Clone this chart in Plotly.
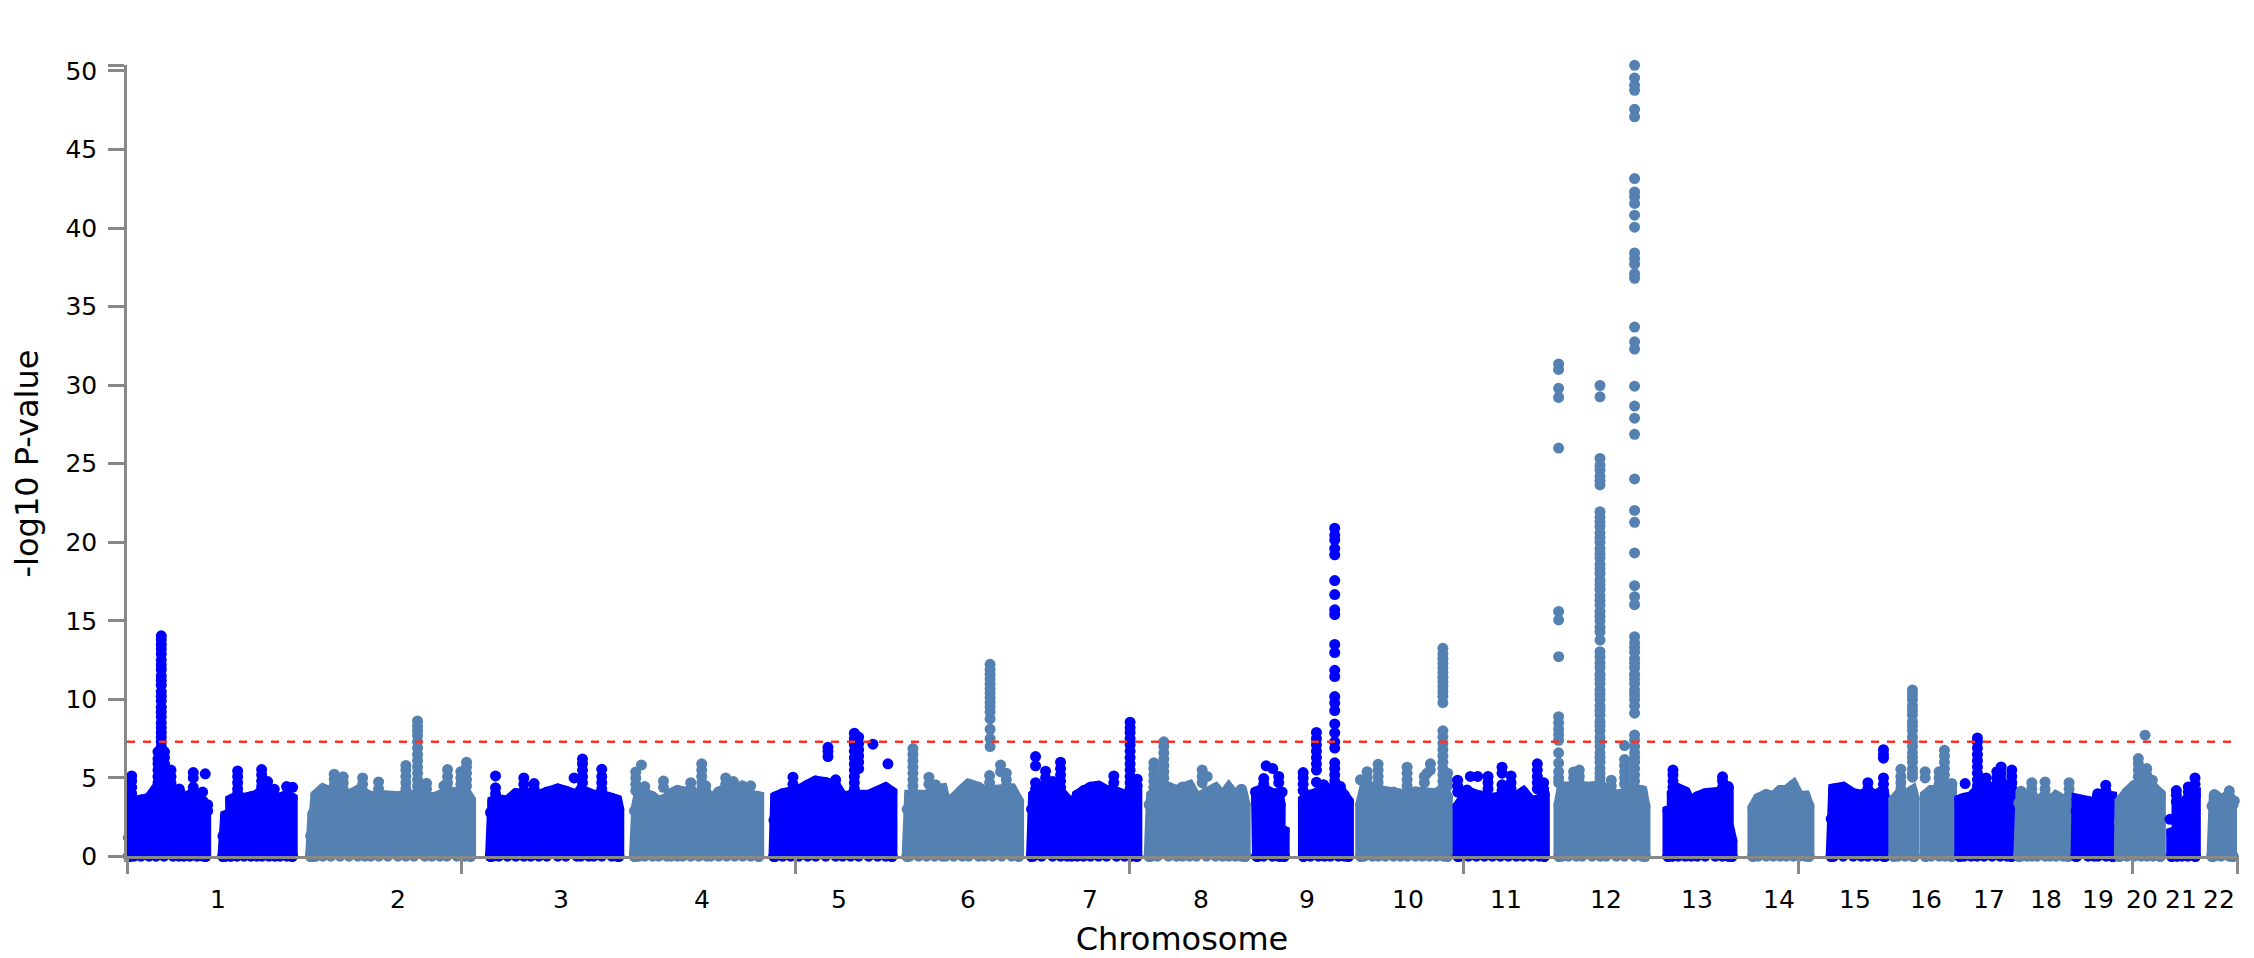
import plotly.graph_objects as go

# positions are measured along the genome axis, heights are -log10 P
axis_length = 2111
tick_positions = [0, 334.4, 668.8, 1003.2, 1337.6, 1672, 2006.4, 2111]
y_ticks = [0, 5, 10, 15, 20, 25, 30, 35, 40, 45, 50, 50.38]
y_tick_text = ["0", "5", "10", "15", "20", "25", "30", "35", "40", "45", "50", ""]
threshold = 7.3

chrom_names = [str(i) for i in range(1, 23)]
chrom_centers = [91, 271, 434, 575, 712, 841.5, 963, 1075, 1181, 1282, 1380, 1479.6,
                 1570.5, 1652.5, 1729, 1800, 1863, 1920, 1972, 2015.5, 2055, 2093]

# top of the dense part of each chromosome, None between separate lobes
chr1_x = [1.7, 1.7, 2.5, 4, 7, 14, 22, 29, 37, 46, 52, 57, 63, 70, 76, 78.7, 78.7, None, 96, 96, 98.7, 98.7, 103.7, 103.7, 110, 117, 124, 130, 135, 142, 148, 153, 160, 165.3, 165.3]
chr1_top = [0, 1.2, 2.2, 3.6, 3.5, 3.6, 3.7, 4.3, 4.3, 4.2, 4.2, 3.6, 3.9, 3.7, 3.5, 3.2, 0, None, 0, 1.3, 1.4, 2.6, 2.7, 3.6, 3.8, 3.7, 3.8, 3.9, 4.2, 3.9, 3.8, 3.7, 3.9, 3.7, 0]
chr2_x = [183.7, 183.7, 186, 186, 187.7, 189, 196, 204, 213, 222, 231, 238, 244, 252, 261, 271, 279, 287, 298, 305, 313, 320, 330, 338, 343.7, 343.7]
chr2_top = [0, 1.3, 1.4, 2.7, 2.9, 3.9, 4.3, 4.1, 4.1, 3.9, 4.2, 3.9, 3.8, 3.9, 3.8, 3.8, 3.9, 3.9, 3.9, 3.7, 3.9, 4.0, 4.1, 4.2, 3.6, 0]
chr3_x = [363.7, 363.7, 366, 372, 380.7, 389, 397, 404, 412, 420, 431, 439, 450, 454, 462, 467, 475, 485, 490, 492, 492]
chr3_top = [0, 2.8, 3.5, 3.6, 3.54, 4.0, 3.9, 3.9, 3.9, 4.1, 4.3, 4.16, 3.9, 4.24, 4.0, 3.9, 3.9, 3.7, 3.6, 3.0, 0]
chr4_x = [507.7, 507.7, 510, 512, 518, 525.7, 532, 540, 544, 550.7, 556, 564, 572, 580, 584, 592, 600, 608, 616, 624, 632, 632]
chr4_top = [0, 2.9, 3.2, 3.9, 4.0, 3.8, 3.5, 3.7, 4.0, 4.2, 4.1, 3.9, 3.9, 4.0, 3.5, 4.1, 4.3, 4.3, 3.9, 3.9, 3.8, 0]
chr5_x = [647.3, 647.3, 648.3, 649, 656, 664, 672, 681, 689, 699, 709, 716, 724, 732, 742, 751, 759, 765.3, 765.3]
chr5_top = [0, 2.3, 2.4, 3.8, 4.0, 4.1, 4.2, 4.54, 4.8, 4.7, 4.5, 3.8, 3.9, 3.9, 3.9, 4.1, 4.37, 4.1, 0]
chr6_x = [780.5, 780.5, 783, 792, 800, 808, 815.7, 819, 827, 835.7, 842, 852, 858, 866, 875, 885, 892, 892]
chr6_top = [0, 3.0, 3.9, 3.9, 3.9, 4.2, 4.3, 3.4, 3.7, 4.24, 4.6, 4.4, 4.1, 4.2, 4.2, 4.3, 3.5, 0]
chr7_x = [905, 905, 907, 915, 926, 934, 940.7, 945, 950.7, 957, 964, 972, 980, 990, 998, 1005, 1010.3, 1010.3]
chr7_top = [0, 3.0, 3.9, 4.2, 4.2, 4.1, 3.6, 2.6, 3.9, 4.2, 4.4, 4.47, 4.2, 4.1, 3.9, 4.0, 4.2, 0]
chr8_x = [1022.7, 1022.7, 1025, 1031, 1042, 1050, 1056, 1063, 1070, 1080, 1089, 1096, 1102.3, 1109, 1115, 1118.7, 1118.7]
chr8_top = [0, 3.3, 3.9, 4.3, 4.4, 4.2, 4.43, 4.5, 3.7, 4.1, 4.35, 3.8, 4.35, 3.8, 4.28, 3.3, 0]
chr9_x = [1131, 1131, 1130, 1137, 1146, 1152, 1153.7, 1153.7, 1157.7, 1157.7, None, 1177, 1177, 1184, 1192, 1198, 1204, 1212, 1218, 1222, 1222]
chr9_top = [0, 3.3, 4.1, 4.3, 4.0, 4.0, 3.3, 1.7, 1.6, 0, None, 0, 3.6, 3.9, 4.1, 4.3, 4.3, 4.4, 3.9, 3.5, 0]
chr10_x = [1234.3, 1234.3, 1238, 1246, 1252, 1259, 1267, 1274, 1281, 1289, 1296, 1303, 1310, 1317, 1321, 1321]
chr10_top = [0, 3.3, 4.3, 4.4, 4.2, 4.1, 4.1, 3.9, 3.9, 4.1, 4.1, 4.0, 4.0, 4.3, 3.8, 0]
chr11_x = [1331.7, 1331.7, 1336, 1342, 1350, 1358, 1366, 1374, 1382, 1390, 1397, 1405, 1413, 1418, 1418]
chr11_top = [0, 3.2, 3.6, 4.1, 3.9, 3.8, 3.7, 3.8, 3.7, 3.8, 4.1, 3.5, 3.6, 4.0, 0]
chr12_x = [1432.7, 1432.7, 1436, 1442, 1450, 1456, 1465.7, 1474, 1480, 1490, 1498, 1508, 1515.7, 1518.7, 1518.7]
chr12_top = [0, 3.3, 4.43, 4.4, 4.4, 4.4, 4.43, 4.5, 4.3, 3.9, 4.0, 4.3, 4.18, 3.2, 0]
chr13_x = [1541.7, 1541.7, 1546, 1546, 1552, 1559, 1565, 1571, 1579, 1589, 1596, 1602, 1602, 1605.7, 1605.7]
chr13_top = [0, 2.9, 3.0, 4.0, 4.3, 4.1, 3.4, 3.8, 4.0, 4.0, 4.1, 4.45, 2.0, 1.0, 0]
chr14_x = [1626.7, 1626.7, 1632, 1640, 1647, 1654, 1660, 1667, 1673, 1679, 1682.7, 1682.7]
chr14_top = [0, 3.1, 3.7, 3.94, 3.8, 4.2, 4.2, 4.54, 3.8, 3.84, 3.2, 0]
chr15_x = [1705, 1705, 1707.5, 1707.5, 1717, 1727, 1735, 1741.7, 1750, 1757, 1758.7, 1758.7]
chr15_top = [0, 2.4, 2.6, 4.3, 4.4, 4.0, 3.9, 4.1, 3.9, 4.2, 3.6, 0]
chr16_x = [1767.7, 1767.7, 1772, 1779, 1786, 1788, 1788, None, 1799.3, 1799.3, 1805, 1813, 1819, 1825.3, 1825.3]
chr16_top = [0, 3.6, 3.9, 3.9, 4.18, 3.7, 0, None, 0, 3.9, 4.2, 4.2, 4.4, 4.3, 0]
chr17_x = [1833.7, 1833.7, 1838, 1845, 1851, 1858, 1866, 1874, 1881, 1885.3, 1885.3]
chr17_top = [0, 3.6, 3.7, 3.8, 4.2, 4.4, 4.4, 4.5, 4.5, 4.3, 0]
chr18_x = [1892.7, 1892.7, 1895, 1901, 1906, 1911, 1919, 1924, 1930, 1937, 1942, 1942]
chr18_top = [0, 3.4, 4.15, 3.6, 3.9, 3.4, 3.9, 3.4, 3.85, 3.6, 3.4, 0]
chr19_x = [1950, 1950, 1951, 1962, 1968, 1972, 1980, 1985.7, 1987, 1987]
chr19_top = [0, 2.9, 3.65, 3.5, 3.3, 3.9, 3.9, 3.8, 2.2, 0]
chr20_x = [1993.3, 1993.3, 1994, 2001, 2008, 2015, 2021, 2027, 2034.3, 2034.3]
chr20_top = [0, 2.2, 3.5, 4.07, 4.5, 4.6, 4.7, 4.4, 3.97, 0]
chr21_x = [2045.7, 2045.7, 2051, 2051, 2056, 2062, 2069.3, 2069.3]
chr21_top = [0, 1.5, 1.6, 3.5, 3.3, 3.7, 3.9, 0]
chr22_x = [2086, 2086, 2088.3, 2095, 2103, 2107, 2107]
chr22_top = [0, 3.2, 3.94, 3.6, 3.9, 3.3, 0]

# points standing clear of the dense part, one list of heights per column
chr1_hit_x = [34.3, 31, 37.5, 4.7, 44, 52.3, 66.3, 75.7, 78.3, 80.7, 110.7, 134.7, 140.7, 147.3, 159.7, 165.7]
chr1_hit_y = [[14.05, 13.8, 13.5, 13.2, 12.9, 12.5, 12.2, 11.9, 11.5, 11.2, 10.9, 10.5, 10.2, 9.9, 9.5, 9.2, 8.9, 8.5, 8.2, 7.9, 7.6, 7.3, 7.0, 6.7, 6.4, 6.1, 5.8, 5.5, 5.2, 4.9, 4.6, 4.3, 4.0],
              [6.66, 6.2, 5.9, 5.5, 5.1, 4.7, 4.3], [6.66, 6.3, 5.9, 5.5, 5.1, 4.7, 4.3],
              [5.13, 4.8, 4.4, 4.0], [5.5, 5.1, 4.7, 4.3], [4.3], [5.34, 5.0, 4.4, 4.0], [4.1], [5.26], [3.3, 2.9],
              [5.45, 5.1, 4.7, 4.3, 4.0], [5.53, 5.2, 4.8, 4.45], [4.77, 4.4], [4.28], [4.45], [4.4]]
chr2_hit_x = [207.3, 216.3, 235.7, 251.7, 279, 290.7, 299.7, 317, 320.7, 334, 339.7]
chr2_hit_y = [[5.24, 4.9, 4.5], [5.07, 4.7, 4.3], [5.0, 4.6, 4.2], [4.75, 4.3], [5.8, 5.5, 5.1, 4.7, 4.3],
              [8.63, 8.3, 8.0, 7.7, 7.3, 6.9, 6.5, 6.1, 5.7, 5.3, 4.9, 4.5, 4.1], [4.66, 4.3], [4.5], [5.53, 5.1, 4.7, 4.3], [5.4, 5.0, 4.6, 4.2], [6.0, 5.7, 5.3, 4.9, 4.5]]
chr3_hit_x = [368.7, 397, 407.3, 447.3, 455.7, 475]
chr3_hit_y = [[5.13, 4.37, 4.0], [5.0, 4.6, 4.2], [4.64, 4.3], [5.0], [6.2, 5.9, 5.5, 5.1, 4.7], [5.55, 5.1, 4.7, 4.3]]
chr4_hit_x = [509, 514.7, 518, 536.7, 564, 575, 579, 599, 606.7, 615.7, 624]
chr4_hit_y = [[5.38, 5.0, 4.6, 4.2], [5.83], [4.45], [4.8, 4.4], [4.7, 4.3], [5.9, 5.5, 5.1, 4.7, 4.3], [4.5, 4.1], [5.0, 4.6], [4.77, 4.4], [4.5], [4.5]]
chr5_hit_x = [666.3, 701.3, 727.7, 732, 746.3, 761.3, 709]
chr5_hit_y = [[5.05, 4.6], [6.95, 6.7, 6.36], [7.85, 7.5, 7.1, 6.7, 6.3, 5.9, 5.5, 5.1, 4.7, 4.3], [7.6, 7.2, 6.8, 6.4, 6.0, 5.6], [7.15], [5.9], [4.88]]
chr6_hit_x = [786.3, 802.3, 809, 863.5, 863, 874, 879.7]
chr6_hit_y = [[6.87, 6.5, 6.1, 5.7, 5.3, 4.9, 4.5, 4.1], [5.05, 4.6], [4.56],
              [12.23, 11.9, 11.6, 11.3, 11.0, 10.7, 10.4, 10.1, 9.8, 9.5, 9.2, 8.76, 8.1, 7.5, 7.0], [5.15, 4.7], [5.83, 5.4], [5.3, 4.9, 4.5]]
chr7_hit_x = [909, 909, 919, 926.3, 934, 987.3, 1003.6, 1010.7]
chr7_hit_y = [[6.36, 5.77], [4.7, 4.3], [5.43, 5.0, 4.6], [4.77], [6.0, 5.6, 5.2, 4.8, 4.4], [5.13, 4.7], [8.55, 8.2, 7.9, 7.5, 7.1, 6.7, 6.3, 5.9, 5.5, 5.1, 4.7, 4.3], [4.92, 4.5]]
chr8_hit_x = [1027.3, 1033, 1037.3, 1075.7, 1080.7]
chr8_hit_y = [[5.96, 5.6, 5.2, 4.8, 4.4], [5.0, 4.6], [7.3, 7.0, 6.6, 6.2, 5.8, 5.4, 5.0, 4.6], [5.5, 5.1, 4.7], [5.1]]
chr9_hit_x = [1129, 1137.3, 1139.7, 1146.3, 1152.3, 1155.7, 1176.7, 1190, 1190, 1197.3, 1208.3, 1214]
chr9_hit_y = [[4.1], [4.96, 4.6], [5.77], [5.6], [5.1, 4.7], [4.1], [5.34, 5.0, 4.6, 4.2], [7.9, 7.5, 7.1, 6.7, 6.3, 5.9, 5.5], [4.73], [4.56],
              [20.9, 20.46, 20.15, 19.6, 19.2, 17.56, 16.67, 15.7, 15.4, 13.5, 12.98, 11.85, 11.45, 10.18, 9.77, 9.29, 8.44, 7.87, 7.3, 6.9, 5.96, 5.6, 5.2, 4.8, 4.4], [4.45]]
chr10_hit_x = [1234, 1240.7, 1251.7, 1280.7, 1298, 1300.7, 1304, 1316.5, 1321.3]
chr10_hit_y = [[4.88], [5.4, 5.0, 4.6], [5.87, 5.5, 5.1, 4.7, 4.3], [5.68, 5.3, 4.9, 4.5], [5.1, 4.7], [5.3], [5.9, 5.5],
               [13.25, 12.9, 12.6, 12.3, 12.0, 11.7, 11.4, 11.1, 10.8, 10.5, 10.2, 9.8, 8.0, 7.6, 7.2, 6.8, 6.4, 6.0, 5.6, 5.2, 4.8, 4.4], [5.3, 4.9, 4.5]]
chr11_hit_x = [1331.3, 1344, 1351.3, 1340.7, 1361.7, 1375.7, 1375.7, 1384.7, 1411, 1417.3]
chr11_hit_y = [[4.86, 4.5, 4.1], [5.1], [5.1], [4.24], [5.1, 4.7, 4.3], [5.68, 5.3], [4.56, 4.2], [5.13, 4.7, 4.3], [5.9, 5.5, 5.1, 4.7, 4.3], [4.7, 4.3]]
chr12_hit_x = [1432.3, 1447.3, 1453, 1473.7, 1485, 1498.3, 1508.3]
chr12_hit_y = [[31.35, 31.0, 29.8, 29.22, 26.0, 15.6, 15.06, 12.72, 8.9, 8.5, 8.1, 7.75, 7.4, 6.6, 5.95, 5.4, 5.0, 4.7],
               [5.38, 5.0, 4.6], [5.5, 5.1, 4.7],
               [29.98, 29.26, 25.34, 24.9, 24.6, 24.2, 23.9, 23.65, 21.95, 21.6, 21.3, 21.0, 20.6, 20.3, 20.0, 19.6, 19.3, 19.0, 18.6, 18.3, 18.0, 17.6, 17.3, 17.0, 16.6, 16.3, 16.0, 15.6, 15.3, 15.0, 14.6, 14.3, 13.78, 13.04, 12.7, 12.3, 12.0, 11.6, 11.3, 11.0, 10.6, 10.3, 10.0, 9.6, 9.3, 9.0, 8.6, 8.3, 8.0, 7.6, 7.3, 7.0, 6.6, 6.3, 6.0, 5.6, 5.3, 5.0, 4.7],
               [4.86, 4.5], [7.06, 6.17, 5.8, 5.4, 5.0, 4.6],
               [50.36, 49.56, 49.09, 48.77, 47.56, 47.08, 43.15, 42.3, 41.98, 41.57, 40.82, 40.06, 38.42, 38.07, 37.7, 37.1, 36.8, 33.7, 32.76, 32.3, 29.94, 28.67, 27.9, 26.87, 24.03, 22.03, 21.27, 19.32, 17.24, 16.54, 16.03, 13.99, 13.6, 13.3, 13.0, 12.6, 12.3, 12.0, 11.6, 11.3, 11.0, 10.6, 10.3, 10.0, 9.6, 9.12, 7.74, 7.4, 7.0, 6.6, 6.3, 6.0, 5.6, 5.2, 4.8]]
chr13_hit_x = [1546.7, 1596.3]
chr13_hit_y = [[5.5, 5.2, 4.8, 4.4], [5.07, 4.8, 4.4]]
chr14_hit_x = [1667]
chr14_hit_y = [[4.54]]
chr15_hit_x = [1741.7, 1757.3, 1757.3]
chr15_hit_y = [[4.7, 4.3], [6.8, 6.5, 6.26], [5.0, 4.6]]
chr16_hit_x = [1774.7, 1786.3, 1799, 1813, 1818.3, 1825.7]
chr16_hit_y = [[5.55, 5.1, 4.7, 4.3], [10.6, 10.3, 10.0, 9.6, 9.3, 9.0, 8.6, 8.3, 8.0, 7.6, 7.3, 7.0, 6.6, 6.3, 6.0, 5.6, 5.3, 5.05], [5.4, 5.0], [5.4, 5.0, 4.6], [6.76, 6.4, 6.0, 5.6, 5.2, 4.8, 4.4], [4.64]]
chr17_hit_x = [1839, 1851.3, 1860, 1870.7, 1875, 1885.7]
chr17_hit_y = [[4.64], [7.55, 7.3, 6.9, 6.5, 6.1, 5.7, 5.3, 4.9, 4.5], [5.0, 4.6], [5.4, 5.0, 4.6], [5.7, 5.3, 4.9, 4.5], [5.5, 5.1, 4.7]]
chr18_hit_x = [1905.7, 1919, 1943]
chr18_hit_y = [[4.7, 4.3], [4.75, 4.3], [4.7, 4.3, 3.9]]
chr19_hit_x = [1971.7, 1979.7]
chr19_hit_y = [[4.0], [4.54, 4.2]]
chr20_hit_x = [2012.3, 2019, 2020.7, 2026.3]
chr20_hit_y = [[6.23, 5.9, 5.5, 5.1, 4.7], [7.72], [5.6, 5.2, 4.8], [4.86]]
chr21_hit_x = [2044, 2050.3, 2062.3, 2069]
chr21_hit_y = [[2.37], [4.2, 3.9, 3.5], [4.43, 4.1], [5.0, 4.6, 4.2]]
chr22_hit_x = [2103.3, 2108.3]
chr22_hit_y = [[4.18], [3.54]]

chrom_x = [chr1_x, chr2_x, chr3_x, chr4_x, chr5_x, chr6_x, chr7_x, chr8_x, chr9_x, chr10_x, chr11_x,
           chr12_x, chr13_x, chr14_x, chr15_x, chr16_x, chr17_x, chr18_x, chr19_x, chr20_x, chr21_x, chr22_x]
chrom_top = [chr1_top, chr2_top, chr3_top, chr4_top, chr5_top, chr6_top, chr7_top, chr8_top, chr9_top, chr10_top, chr11_top,
             chr12_top, chr13_top, chr14_top, chr15_top, chr16_top, chr17_top, chr18_top, chr19_top, chr20_top, chr21_top, chr22_top]
hit_x = [chr1_hit_x, chr2_hit_x, chr3_hit_x, chr4_hit_x, chr5_hit_x, chr6_hit_x, chr7_hit_x, chr8_hit_x, chr9_hit_x, chr10_hit_x, chr11_hit_x,
         chr12_hit_x, chr13_hit_x, chr14_hit_x, chr15_hit_x, chr16_hit_x, chr17_hit_x, chr18_hit_x, chr19_hit_x, chr20_hit_x, chr21_hit_x, chr22_hit_x]
hit_y = [chr1_hit_y, chr2_hit_y, chr3_hit_y, chr4_hit_y, chr5_hit_y, chr6_hit_y, chr7_hit_y, chr8_hit_y, chr9_hit_y, chr10_hit_y, chr11_hit_y,
         chr12_hit_y, chr13_hit_y, chr14_hit_y, chr15_hit_y, chr16_hit_y, chr17_hit_y, chr18_hit_y, chr19_hit_y, chr20_hit_y, chr21_hit_y, chr22_hit_y]

BLUE = "#0000ff"
STEEL = "#5581b2"
GREY = "#888888"
FONT = "DejaVu Sans"
DOT = 11

fig = go.Figure()
for i in range(22):
    color = BLUE if i % 2 == 0 else STEEL
    # dense part
    fig.add_trace(go.Scatter(x=chrom_x[i], y=chrom_top[i], mode="lines", fill="tozeroy",
                             fillcolor=color, line=dict(color=color, width=DOT),
                             hoverinfo="skip", showlegend=False))
    # rounded top and the row of points hanging under the axis
    px = [v for v in chrom_x[i] if v is not None]
    py = [v for v in chrom_top[i] if v is not None]
    fig.add_trace(go.Scatter(x=px + px, y=py + [0.02] * len(px), mode="markers",
                             marker=dict(color=color, size=DOT), cliponaxis=False,
                             hoverinfo="skip", showlegend=False))
    sx, sy = [], []
    for x0, col in zip(hit_x[i], hit_y[i]):
        sx += [x0] * len(col)
        sy += col
    fig.add_trace(go.Scatter(x=sx, y=sy, mode="markers",
                             marker=dict(color=color, size=DOT), cliponaxis=False,
                             showlegend=False))

fig.add_shape(type="line", x0=0, x1=axis_length, y0=threshold, y1=threshold, layer="above",
              line=dict(color="#f4352a", width=2.5, dash="8px,8px"))

# chromosome names sit under the axis, the axis ticks mark genome distance instead
for name, cx in zip(chrom_names, chrom_centers):
    fig.add_annotation(x=cx, y=-0.0474, xref="x", yref="paper", text=name, showarrow=False,
                       yanchor="middle", font=dict(family=FONT, size=25, color="black"))

fig.update_layout(
    width=2254, height=958,
    margin=dict(l=127, r=17, t=64.5, b=95.8),
    paper_bgcolor="white", plot_bgcolor="white",
    xaxis=dict(range=[0, axis_length], tickvals=tick_positions, showticklabels=False,
               ticks="outside", ticklen=16, tickwidth=2.5, tickcolor=GREY, automargin=False,
               showline=True, linecolor=GREY, linewidth=2.5, showgrid=False, zeroline=False,
               anchor="free", position=0.0069,
               title=dict(text="Chromosome", standoff=56, font=dict(family=FONT, size=32, color="black"))),
    yaxis=dict(range=[-0.35, 50.38], tickvals=y_ticks, ticktext=y_tick_text,
               ticks="outside", ticklen=16, tickwidth=2.5, tickcolor=GREY, automargin=False,
               showline=True, linecolor=GREY, linewidth=2.5, showgrid=False, zeroline=False,
               ticklabelstandoff=6, tickfont=dict(family=FONT, size=25, color="black"),
               title=dict(text="-log10 P-value", standoff=18, font=dict(family=FONT, size=32, color="black"))),
)

fig.write_html("out.html", config={"displayModeBar": False},
               post_script="document.body.style.margin='0';document.body.style.overflow='hidden';")
